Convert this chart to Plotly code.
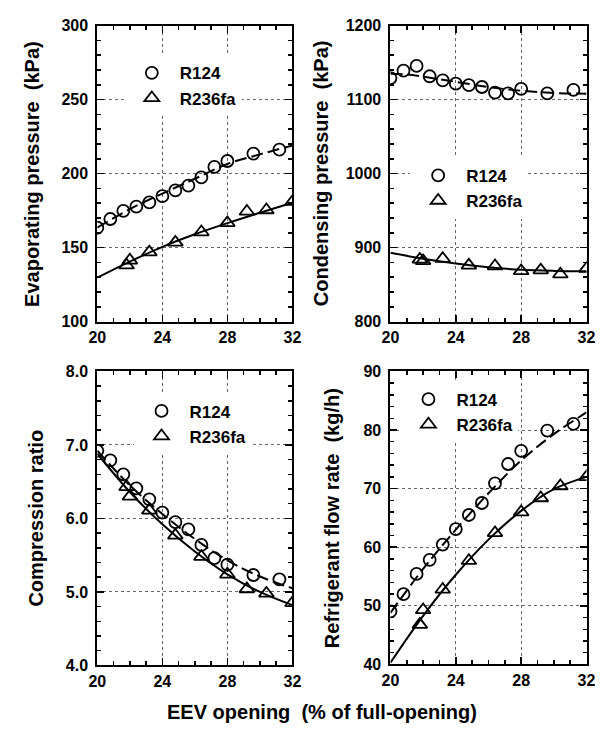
import plotly.graph_objects as go

# ---------------- data ----------------
x_r124 = [20.0, 20.8, 21.6, 22.4, 23.2, 24.0, 24.8, 25.6, 26.4, 27.2, 28.0, 29.6, 31.2]
x_r236 = [21.8, 22.0, 23.2, 24.8, 26.4, 28.0, 29.2, 30.4, 32.0]
x_fit = [20, 22, 24, 26, 28, 30, 32]
x_fit_cond124 = [20, 21, 22, 24, 26, 28, 30, 32]

evap_r124 = [163.4, 169.3, 174.8, 177.7, 180.5, 184.7, 188.6, 191.9, 197.5, 204.5, 208.5, 213.5, 216.2]
evap_r236 = [138.1, 141.4, 146.9, 153.5, 160.5, 166.7, 174.4, 175.4, 181.0]
evap_fit_r124 = [163.5, 176.0, 186.5, 196.5, 206.5, 213.0, 219.0]
evap_fit_r236 = [129.7, 140.5, 150.5, 159.0, 166.5, 173.5, 180.3]

cond_r124 = [1129, 1139, 1145.5, 1131.5, 1126, 1121.5, 1119.5, 1117, 1109.5, 1108.5, 1114.5, 1108.5, 1113]
cond_r236 = [884, 882, 885, 876, 875, 868.5, 869.5, 864, 871.5]
cond_fit_r124 = [1135, 1134, 1131, 1124, 1117, 1112, 1109, 1108]
cond_fit_r236 = [893, 885, 878.5, 873.5, 870, 868.5, 868]

ratio_r124 = [6.92, 6.79, 6.60, 6.41, 6.26, 6.08, 5.95, 5.85, 5.64, 5.46, 5.37, 5.23, 5.17]
ratio_r236 = [6.43, 6.30, 6.11, 5.77, 5.48, 5.24, 5.04, 4.98, 4.85]
ratio_fit_r124 = [6.92, 6.45, 6.06, 5.72, 5.43, 5.21, 5.05]
ratio_fit_r236 = [6.88, 6.36, 5.92, 5.55, 5.24, 5.00, 4.82]

flow_r124 = [49.05, 52.0, 55.45, 57.85, 60.45, 63.1, 65.5, 67.55, 70.9, 74.2, 76.45, 79.9, 81.05]
flow_r236 = [46.8, 49.3, 52.8, 57.7, 62.45, 66.0, 68.4, 70.45, 72.0]
flow_fit_r124 = [48.8, 56.3, 63.0, 69.2, 74.8, 79.3, 83.0]
flow_fit_r236 = [40.3, 48.3, 55.3, 61.3, 66.2, 69.9, 72.0]

series_names = ["R124", "R236fa"]
y_titles = ["Evaporating pressure  (kPa)", "Condensing pressure  (kPa)",
            "Compression ratio", "Refrigerant flow rate  (kg/h)"]
x_title = "EEV opening  (% of full-opening)"

# ---------------- layout geometry (pixels) ----------------
W, H = 612, 735
FONT = "Liberation Sans, Arial, sans-serif"

panels = [
    dict(r124=evap_r124, r236=evap_r236, f124=evap_fit_r124, f236=evap_fit_r236, fx124=x_fit,
         xd=(91, 292), yd=(18, 321), yr=(100, 300), dt=50, mdt=10, fmt="d",
         leg=(146.7, 79.2), tx=23),
    dict(r124=cond_r124, r236=cond_r236, f124=cond_fit_r124, f236=cond_fit_r236, fx124=x_fit_cond124,
         xd=(393, 595), yd=(18, 321), yr=(800, 1200), dt=100, mdt=20, fmt="d",
         leg=(441.7, 184.2), tx=321),
    dict(r124=ratio_r124, r236=ratio_r236, f124=ratio_fit_r124, f236=ratio_fit_r236, fx124=x_fit,
         xd=(91, 292), yd=(372, 673), yr=(4.0, 8.0), dt=1.0, mdt=0.2, fmt=".1f",
         leg=(156.7, 425.3), tx=28),
    dict(r124=flow_r124, r236=flow_r236, f124=flow_fit_r124, f236=flow_fit_r236, fx124=x_fit,
         xd=(393, 595), yd=(372, 672), yr=(40, 90), dt=10, mdt=2, fmt="d",
         leg=(431.7, 413.3), tx=333),
]

fig = go.Figure()
layout = dict(width=W, height=H, autosize=False, margin=dict(l=0, r=0, t=0, b=0),
              paper_bgcolor="white", plot_bgcolor="white", annotations=[])

tickfont = dict(family=FONT, size=16, color="black", weight="bold")

for i, p in enumerate(panels, start=1):
    sfx = "" if i == 1 else str(i)
    xa, ya = "x" + sfx, "y" + sfx
    lg = "legend" + sfx
    fig.add_trace(go.Scatter(x=p["fx124"], y=p["f124"], mode="lines", line_shape="spline",
                             line=dict(color="black", width=2, dash="12px,5px"),
                             xaxis=xa, yaxis=ya, showlegend=False, hoverinfo="skip"))
    fig.add_trace(go.Scatter(x=x_fit, y=p["f236"], mode="lines", line_shape="spline",
                             line=dict(color="black", width=2),
                             xaxis=xa, yaxis=ya, showlegend=False, hoverinfo="skip"))
    fig.add_trace(go.Scatter(x=x_r124, y=p["r124"], mode="markers", name=series_names[0],
                             marker=dict(symbol="circle-open", size=12, color="black",
                                         line=dict(width=1.8, color="black")),
                             xaxis=xa, yaxis=ya, legend=lg, hoverinfo="skip"))
    fig.add_trace(go.Scatter(x=x_r236, y=p["r236"], mode="markers", name=series_names[1],
                             marker=dict(symbol="triangle-up-open", size=13, color="black",
                                         line=dict(width=1.8, color="black")),
                             xaxis=xa, yaxis=ya, legend=lg, hoverinfo="skip"))

    xd = [p["xd"][0] / W, p["xd"][1] / W]
    yd = [1 - p["yd"][1] / H, 1 - p["yd"][0] / H]
    layout["xaxis" + sfx] = dict(
        domain=xd, anchor=ya, range=[20, 32], tick0=20, dtick=4,
        ticks="inside", ticklen=7, tickwidth=1.5, tickcolor="black",
        showline=True, linewidth=2, linecolor="black", mirror="ticks",
        showgrid=True, gridcolor="#666666", griddash="dot", gridwidth=1, zeroline=False,
        minor=dict(dtick=1, tick0=20, ticks="inside", ticklen=4, tickwidth=1.5,
                   tickcolor="black", showgrid=False),
        tickfont=tickfont, fixedrange=True)
    layout["yaxis" + sfx] = dict(
        domain=yd, anchor=xa, range=list(p["yr"]), tick0=p["yr"][0], dtick=p["dt"],
        tickformat=p["fmt"], ticklabelstandoff=4,
        ticks="inside", ticklen=7, tickwidth=1.5, tickcolor="black",
        showline=True, linewidth=2, linecolor="black", mirror="ticks",
        showgrid=True, gridcolor="#666666", griddash="dot", gridwidth=1, zeroline=False,
        minor=dict(dtick=p["mdt"], tick0=p["yr"][0], ticks="inside", ticklen=4, tickwidth=1.5,
                   tickcolor="black", showgrid=False),
        tickfont=tickfont, fixedrange=True)
    mx, mid = p["leg"]
    layout[lg] = dict(x=(mx - 28.4) / W, y=1 - (mid - 30.8) / H, xanchor="left", yanchor="top",
                      bgcolor="white", borderwidth=0, tracegroupgap=0, itemwidth=46,
                      font=dict(family=FONT, size=17, color="black", weight="bold"))
    ycen = (p["yd"][0] + p["yd"][1]) / 2
    layout["annotations"].append(dict(
        text=y_titles[i - 1], x=p["tx"] / W, y=1 - ycen / H, xref="paper", yref="paper",
        xanchor="center", yanchor="middle", textangle=-90, showarrow=False,
        font=dict(family=FONT, size=20, color="black", weight="bold")))

layout["annotations"].append(dict(
    text=x_title, x=322 / W, y=1 - 721 / H, xref="paper", yref="paper",
    xanchor="center", yanchor="middle", showarrow=False,
    font=dict(family=FONT, size=20, color="black", weight="bold")))

fig.update_layout(**layout)
fig.write_html("out.html", config={"displayModeBar": False, "staticPlot": True},
               post_script="document.body.style.margin='0';document.body.style.padding='0';")
